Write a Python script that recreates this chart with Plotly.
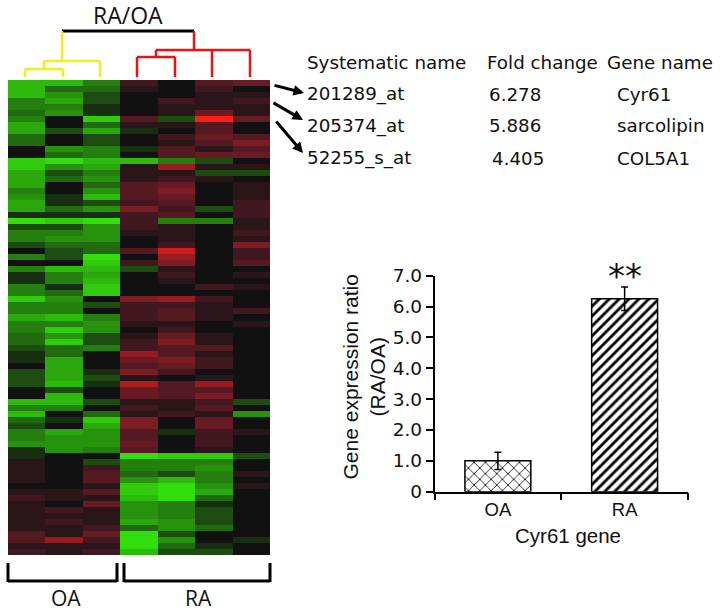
import plotly.graph_objects as go

W, H = 720, 614

# heatmap columns, top row to bottom row, -10 full green ... +10 full red
oa1 = [-7,-7,-7,-4,-4,-3,-4,-6,-6,-3,-3,0,0,-8,-8,-6,-6,-6,-4,-5,
       -6,-6,-1,-9,-2,-4,-4,-2,0,-4,0,-4,-1,-1,-4,-4,-8,-4,-4,-6,
       -4,-4,-3,-3,-2,-1,-1,0,-2,-2,-2,0,0,-7,-4,-7,-3,-2,-4,-4,
       -5,-1,-1,1,1,1,1,0,1,2,1,1,1,1,1,3,3,1,2]
oa2 = [-7,-3,-5,-6,-4,-5,0,0,-2,0,0,-5,-3,-9,-5,-2,-3,0,0,-1,
       -1,-3,-1,-8,-2,-4,-5,-3,-2,-2,0,-7,-4,-4,-1,-3,-5,-4,-4,-7,
       -4,-8,-5,-8,-3,-3,-6,-6,-6,-6,-7,-2,-7,-7,-4,0,-1,0,-6,-5,
       -5,-5,0,0,0,0,0,0,1,1,0,2,1,2,1,1,6,1,1]
oa3 = [-4,-3,-2,-2,-1,-1,-8,-3,-6,-2,-2,-4,-4,-7,-6,-4,-5,-3,-5,-7,
       -2,-5,-1,-9,-5,-5,-5,-3,-3,-9,-8,-7,-6,-7,-8,-8,0,-2,0,-4,
       -5,-5,-2,-2,-4,0,0,0,-1,-2,-1,0,0,-2,0,-3,-8,-6,-5,-5,
       -5,-4,0,-2,2,3,3,1,3,1,4,1,1,1,2,4,2,1,2]
ra1 = [2,1,0,0,0,0,3,1,-1,0,0,-1,0,-7,1,1,1,3,3,3,
       2,5,2,2,2,1,0,0,3,0,2,-2,0,0,0,0,5,2,2,2,
       1,0,1,2,2,6,4,3,5,1,7,4,4,1,2,1,5,5,3,3,
       4,3,-9,-4,-4,-3,-5,-8,-8,-7,-5,-5,-5,-6,-3,-9,-9,-9,-7]
ra2 = [0,0,0,2,1,1,-2,1,0,2,1,3,3,-4,6,1,2,4,5,4,
       3,2,3,-4,1,1,1,2,8,6,5,1,2,1,0,0,6,2,3,3,
       1,2,4,5,3,3,5,4,2,0,3,3,3,1,1,2,0,0,-1,0,
       0,0,-8,-4,-4,-2,-7,-9,-9,-9,-4,-4,-4,-5,-5,-2,-5,-3,-2]
ra3 = [3,2,1,1,1,4,10,3,3,4,3,1,4,-2,1,-2,1,0,0,0,
       0,-2,0,-4,0,0,0,0,0,0,0,0,0,0,2,0,2,1,1,1,
       0,0,1,1,3,1,2,2,0,1,6,3,5,2,3,1,4,4,2,2,
       2,1,-8,-4,-5,-4,-4,-5,-6,-3,-1,-2,-2,-2,-3,0,0,-1,-2]
ra4 = [4,0,1,2,1,1,4,0,0,3,5,3,4,0,1,-2,0,1,1,1,
       2,2,2,1,1,2,1,5,2,2,3,0,1,0,1,0,0,0,2,0,
       1,0,0,0,0,0,0,0,0,0,0,0,0,-2,0,-5,0,0,1,0,
       0,0,-2,0,0,1,0,1,0,0,0,0,0,0,0,0,-1,0,0]
heat_columns = [oa1, oa2, oa3, ra1, ra2, ra3, ra4]

# bar chart
bar_x = [0, 1]
bar_labels = ["OA", "RA"]
bar_values = [1.0, 6.25]
bar_errors = [0.28, 0.38]
y_ticks = [0, 1, 2, 3, 4, 5, 6, 7]
y_tick_text = ["0", "1.0", "2.0", "3.0", "4.0", "5.0", "6.0", "7.0"]

# gene table
table_head = ["Systematic name", "Fold change", "Gene name"]
systematic = ["201289_at", "205374_at", "52255_s_at"]
fold_change = ["6.278", "5.886", "4.405"]
gene_name = ["Cyr61", "sarcolipin", "COL5A1"]


def px(x):
    return x / W


def py(y):
    return 1 - y / H


def seg(x0, y0, x1, y1, color="black", width=2.5):
    return dict(type="line", xref="paper", yref="paper",
                x0=px(x0), y0=py(y0), x1=px(x1), y1=py(y1),
                line=dict(color=color, width=width))


fig = go.Figure()

# --- heatmap ---------------------------------------------------------------
z = [list(r) for r in zip(*heat_columns)]
fig.add_trace(go.Heatmap(
    z=z, zmin=-10, zmax=10, showscale=False, hoverongaps=False,
    colorscale=[[0, "#35f00a"], [0.2, "#2aa80c"], [0.35, "#226a0f"], [0.5, "#111111"],
                [0.6, "#421820"], [0.75, "#7c1c24"], [1, "#ff1e14"]],
    xaxis="x", yaxis="y",
))

# --- bars ------------------------------------------------------------------
fig.add_trace(go.Bar(
    x=bar_x[:1], y=bar_values[:1], width=0.52, xaxis="x2", yaxis="y2",
    marker=dict(color="white", line=dict(color="black", width=1.5),
                pattern=dict(shape="x", size=8, solidity=0.2, fgopacity=1,
                             fgcolor="#111111", bgcolor="white")),
    error_y=dict(type="data", array=bar_errors[:1], color="black", thickness=1.5, width=3.5),
))
fig.add_trace(go.Bar(
    x=bar_x[1:], y=bar_values[1:], width=0.52, xaxis="x2", yaxis="y2",
    marker=dict(color="white", line=dict(color="black", width=1.5),
                pattern=dict(shape="/", size=7, solidity=0.4, fgopacity=1,
                             fgcolor="black", bgcolor="white")),
    error_y=dict(type="data", array=bar_errors[1:], color="black", thickness=1.5, width=3.5),
))

# --- dendrogram, brackets, arrows -----------------------------------------
shapes = [
    seg(62, 31, 194, 31, "black", 3),
    # yellow branch
    seg(62, 31, 62, 61, "#eeee22"), seg(44, 61, 100, 61, "#eeee22"),
    seg(100, 61, 100, 77, "#eeee22"), seg(44, 61, 44, 69, "#eeee22"),
    seg(25, 69, 63, 69, "#eeee22"), seg(25, 69, 25, 77, "#eeee22"),
    seg(63, 69, 63, 77, "#eeee22"),
    # red branch
    seg(194, 31, 194, 50, "#ee1111"), seg(156, 50, 250, 50, "#ee1111"),
    seg(156, 50, 156, 57, "#ee1111"), seg(137, 57, 175, 57, "#ee1111"),
    seg(137, 57, 137, 77, "#ee1111"), seg(175, 57, 175, 77, "#ee1111"),
    seg(212, 50, 212, 77, "#ee1111"), seg(250, 50, 250, 77, "#ee1111"),
    # OA / RA brackets
    seg(8, 563, 8, 582, width=3), seg(8, 581, 117, 581, width=3), seg(117, 563, 117, 582, width=3),
    seg(124, 563, 124, 582, width=3), seg(124, 581, 270, 581, width=3), seg(270, 563, 270, 582, width=3),
]

annotations = []


def label(x, y, text, size, family="DejaVu Sans", anchor="left"):
    annotations.append(dict(
        xref="paper", yref="paper", x=px(x), y=py(y), text=text, showarrow=False,
        xanchor=anchor, yanchor="middle", font=dict(family=family, size=size, color="#111111"),
    ))


label(128, 15, "RA/OA", 23, "Open Sans", "center")
label(66, 598, "OA", 21, "Open Sans", "center")
label(198, 598, "RA", 21, "Open Sans", "center")

for x, text in zip([305, 485, 605], table_head):
    label(x, 62, text, 18.3)
for i, y in enumerate([94, 126, 158]):
    label(305, y, systematic[i], 18.3)
    label([487, 487, 490][i], y, fold_change[i], 18.3)
    label(615, y, gene_name[i], 18.3)

for (x0, y0, x1, y1) in [(273, 85, 304, 93), (272, 102, 303, 120), (275, 120, 303, 153)]:
    annotations.append(dict(
        xref="paper", yref="paper", axref="pixel", ayref="pixel",
        x=px(x1), y=py(y1), ax=x0 - x1, ay=y0 - y1, text="", showarrow=True,
        arrowhead=2, arrowsize=0.7, arrowwidth=3, arrowcolor="black",
    ))

annotations.append(dict(
    xref="x2", yref="y2", x=1, y=7.0, text="**", showarrow=False, yanchor="middle",
    font=dict(family="DejaVu Sans", size=34, color="#111111"),
))
label(568, 535, "Cyr61 gene", 20.5, "Liberation Sans", "center")
annotations.append(dict(
    xref="paper", yref="paper", x=px(363), y=py(377.5), text="Gene expression ratio<br>(RA/OA)",
    textangle=-90, showarrow=False, font=dict(family="Liberation Sans", size=21, color="#111111"),
))

fig.update_layout(
    width=W, height=H, margin=dict(l=0, r=0, t=0, b=0, autoexpand=False),
    paper_bgcolor="white", plot_bgcolor="white", showlegend=False,
    shapes=shapes, annotations=annotations,
    xaxis=dict(domain=[px(8), px(270)], range=[-0.5, 6.5], visible=False),
    yaxis=dict(domain=[py(555), py(80)], range=[78.5, -0.5], visible=False),
    xaxis2=dict(
        domain=[px(434.5), px(688)], anchor="y2", range=[-0.5, 1.5],
        tickmode="array", tickvals=bar_x, ticktext=bar_labels, ticks="",
        minor=dict(tickmode="array", tickvals=[-0.5, 0.5, 1.5], ticks="outside", ticklen=7,
                   tickwidth=1.5, tickcolor="black"),
        showline=True, linecolor="black", linewidth=1.5, showgrid=False, zeroline=False,
        tickfont=dict(family="Liberation Sans", size=18.5, color="#111111"),
    ),
    yaxis2=dict(
        domain=[py(491.7), py(275.7)], anchor="x2", range=[0, 7],
        tickmode="array", tickvals=y_ticks, ticktext=y_tick_text, ticks="outside",
        ticklen=7, tickwidth=1.5, tickcolor="black",
        showline=True, linecolor="black", linewidth=1.5, showgrid=False, zeroline=False,
        tickfont=dict(family="DejaVu Sans", size=18.5, color="#111111"),
    ),
)

fig.write_html("out.html", config={"displayModeBar": False},
               post_script="document.body.style.margin='0';")
